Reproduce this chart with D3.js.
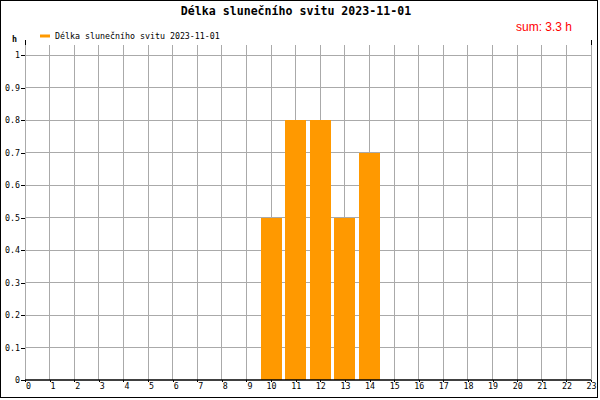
<!DOCTYPE html>
<html>
<head>
<meta charset="utf-8">
<script src="https://cdn.jsdelivr.net/npm/d3@7"></script>
<style>
  html, body { margin: 0; padding: 0; background: #fff; }
  svg { display: block; }
</style>
</head>
<body>
<script>
// ---- data ----
const titleText = "Délka slunečního svitu 2023-11-01";
const seriesName = "Délka slunečního svitu 2023-11-01";
const sumText = "sum: 3.3 h";
const unitLabel = "h";
const hours = d3.range(0, 24);
const sunshine = [0,0,0,0,0,0,0,0,0,0,0.5,0.8,0.8,0.5,0.7,0,0,0,0,0,0,0,0,0];
const yTicks = [0,0.1,0.2,0.3,0.4,0.5,0.6,0.7,0.8,0.9,1];
const yTickLabels = ["0","0.1","0.2","0.3","0.4","0.5","0.6","0.7","0.8","0.9","1"];

// ---- layout ----
const W = 600, H = 400;
const plotLeft = 25, plotRight = 591, plotTop = 55, plotBottom = 380, gridTop = 45;
const mono = "'DejaVu Sans Mono', monospace";
const barColor = "#ff9900", gridColor = "#aaaaaa";

const svg = d3.select("body").append("svg").attr("width", W).attr("height", H);
svg.append("rect").attr("x", 0).attr("y", 0).attr("width", W).attr("height", H).attr("fill", "#fff");

const x = d3.scaleLinear().domain([0, 23]).range([plotLeft, plotRight]);
const y = d3.scaleLinear().domain([0, 1]).range([plotBottom, plotTop]);
const step = x(1) - x(0);
const barW = step * 0.85;

// vertical grid
svg.append("g").selectAll("line").data(hours).join("line")
  .attr("x1", d => x(d)).attr("x2", d => x(d))
  .attr("y1", gridTop).attr("y2", plotBottom)
  .attr("stroke", gridColor).attr("stroke-width", 1)
  .attr("shape-rendering", "crispEdges");
// horizontal grid
svg.append("g").selectAll("line").data(yTicks.filter(d => d > 0)).join("line")
  .attr("x1", plotLeft).attr("x2", plotRight)
  .attr("y1", d => y(d)).attr("y2", d => y(d))
  .attr("stroke", gridColor).attr("stroke-width", 1)
  .attr("shape-rendering", "crispEdges");

// black marks at top of the plot
svg.append("g").selectAll("line").data([0, 23]).join("line")
  .attr("x1", d => x(d)).attr("x2", d => x(d))
  .attr("y1", 40).attr("y2", gridTop)
  .attr("stroke", "#000").attr("shape-rendering", "crispEdges");

// bars
svg.append("g").selectAll("rect").data(hours.filter(h => sunshine[h] > 0)).join("rect")
  .attr("x", h => x(h) - barW / 2)
  .attr("width", barW)
  .attr("y", h => y(sunshine[h]))
  .attr("height", h => y(0) - y(sunshine[h]))
  .attr("fill", barColor)
  .attr("shape-rendering", "crispEdges");

// y axis ticks & labels
const yAxis = d3.axisLeft(y).tickValues(yTicks)
  .tickFormat((d, i) => yTickLabels[i]).tickSize(4).tickPadding(1);
const gy = svg.append("g").attr("transform", `translate(${plotLeft},0)`).call(yAxis);
gy.select(".domain").remove();
gy.selectAll("line").attr("stroke", "#000").attr("shape-rendering", "crispEdges");
gy.selectAll("text").attr("font-family", mono).attr("font-size", "8.3px").attr("fill", "#000");

// x axis
const xAxis = d3.axisBottom(x).tickValues(hours).tickFormat(d => String(d)).tickSize(2).tickPadding(1);
const gx = svg.append("g").attr("transform", `translate(0,${plotBottom})`).call(xAxis);
gx.select(".domain").remove();
gx.selectAll("line").attr("stroke", "#000").attr("shape-rendering", "crispEdges");
gx.selectAll("text").attr("font-family", mono).attr("font-size", "8.3px").attr("fill", "#000")
  .attr("dx", d => (String(d).length === 1 ? 3 : 0));
svg.append("line").attr("x1", plotLeft).attr("x2", plotRight).attr("y1", plotBottom).attr("y2", plotBottom)
  .attr("stroke", "#000").attr("stroke-width", 1.5);

// title
svg.append("text").attr("x", 296).attr("y", 15).attr("text-anchor", "middle")
  .attr("font-family", mono).attr("font-weight", "bold").attr("font-size", "11.6px")
  .text(titleText);

// sum
svg.append("text").attr("x", 572).attr("y", 31).attr("text-anchor", "end")
  .attr("font-family", "'Liberation Sans', Arial, sans-serif").attr("font-size", "12px")
  .attr("fill", "#ff0000").text(sumText);

// legend
svg.append("line").attr("x1", 40).attr("x2", 50).attr("y1", 36).attr("y2", 36)
  .attr("stroke", barColor).attr("stroke-width", 3);
svg.append("text").attr("x", 55).attr("y", 39)
  .attr("font-family", mono).attr("font-size", "8.3px").text(seriesName);

// unit label
svg.append("text").attr("x", 12).attr("y", 42)
  .attr("font-family", mono).attr("font-weight", "bold").attr("font-size", "8.3px").text(unitLabel);

// frame
svg.append("rect").attr("x", 0.5).attr("y", 0.5).attr("width", 597).attr("height", 397)
  .attr("fill", "none").attr("stroke", "#000").attr("stroke-width", 1);
</script>
</body>
</html>
